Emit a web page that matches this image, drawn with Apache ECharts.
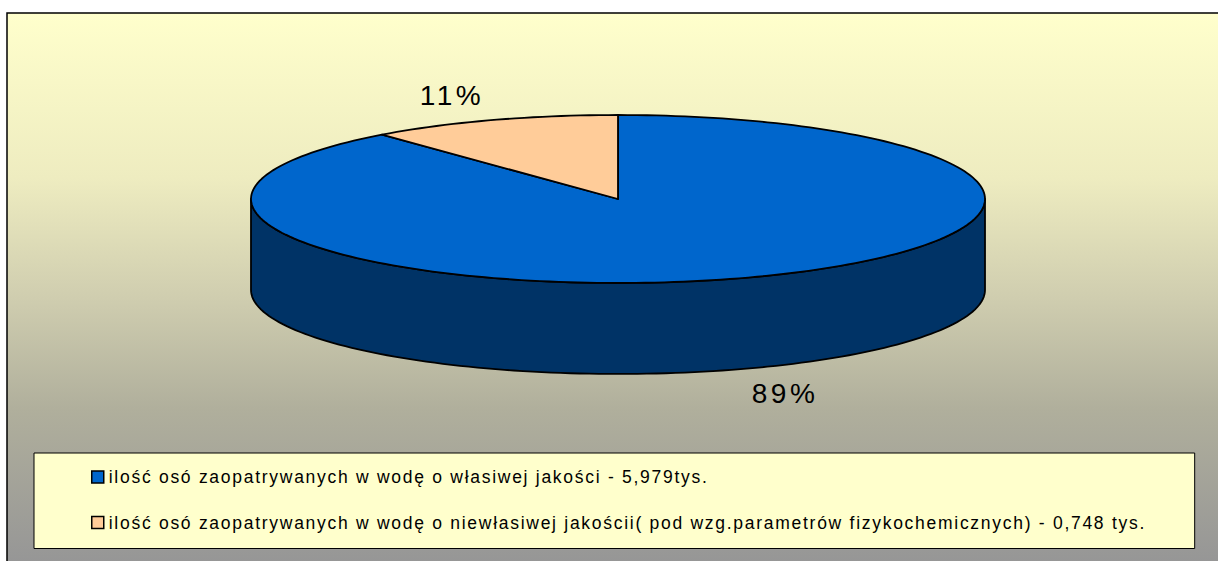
<!DOCTYPE html>
<html lang="pl">

<head>
  <meta charset="UTF-8">
  <title>Jakość wody</title>
  <script src="https://cdn.jsdelivr.net/npm/echarts@6/dist/echarts.min.js"></script>
  <style>
    html, body { margin: 0; padding: 0; background: #fff; }
    /* source chart has wide letter gaps */
    #main text { letter-spacing: 1.72px; }
    #main text[style*="28px"] { letter-spacing: 3.5px; }
  </style>
</head>

<body>

  <div id="main" style="width: 1218px;height:561px;"></div>

  <script>
    var names = [
      'ilość osó zaopatrywanych w wodę o własiwej jakości - 5,979tys.',
      'ilość osó zaopatrywanych w wodę o niewłasiwej jakościi( pod wzg.parametrów fizykochemicznych) - 0,748 tys.'
    ]
    var values = [5.979, 0.748]
    var colors = ['#0066CC', '#FFCC99']
    var sideColors = ['#003366', '#7F6650']

    var total = values[0] + values[1]
    var labels = values.map(function (v) { return Math.round(v / total * 100) + '%' })
    // 3d look: pie drawn as unit ellipse on a hidden grid, slices go clockwise from 12 o'clock
    var depth = 1.083
    var steps = 240

    function pt(api, a, r, dy) {
      return api.coord([Math.sin(a) * r, Math.cos(a) * r - dy])
    }

    function arcPoints(api, a0, a1, dy) {
      var n = Math.max(2, Math.round(steps * (a1 - a0) / (2 * Math.PI)))
      var list = []
      for (var i = 0; i <= n; i++) {
        list.push(pt(api, a0 + (a1 - a0) * i / n, 1, dy))
      }
      return list
    }

    function makeSlice(idx) {
      return function (params, api) {
        var before = 0
        for (var i = 0; i < idx; i++) before += values[i]
        var a0 = before / total * 2 * Math.PI
        var a1 = a0 + values[idx] / total * 2 * Math.PI
        var line = { stroke: '#000', lineWidth: 1.8, lineJoin: 'round' }
        var children = []

        // wall only where the rim faces the viewer
        var w0 = Math.max(a0, Math.PI / 2)
        var w1 = Math.min(a1, Math.PI * 3 / 2)
        if (w1 > w0) {
          var wall = arcPoints(api, w0, w1, 0).concat(arcPoints(api, w0, w1, depth).reverse())
          children.push({ type: 'polygon', shape: { points: wall }, style: Object.assign({ fill: sideColors[idx] }, line) })
        }
        var top = [api.coord([0, 0])].concat(arcPoints(api, a0, a1, 0))
        children.push({ type: 'polygon', shape: { points: top }, style: Object.assign({ fill: colors[idx] }, line) })

        return { type: 'group', children: children }
      }
    }

    var myChart = echarts.init(document.getElementById('main'), null, { renderer: 'svg' })

    myChart.setOption({
      animation: false,
      textStyle: { fontFamily: 'Liberation Sans' },
      graphic: [{
        type: 'rect',
        z: -10,
        shape: { x: 7, y: 13, width: 1213, height: 550 },
        style: {
          stroke: '#000',
          lineWidth: 1.5,
          fill: new echarts.graphic.LinearGradient(0, 0, 0, 1, [
            { offset: 0, color: '#FFFFCC' },
            { offset: 0.3, color: '#EEECC0' },
            { offset: 0.52, color: '#CFCDAF' },
            { offset: 0.72, color: '#B0AF9C' },
            { offset: 1, color: '#969696' }
          ])
        }
      }, {
        type: 'text', x: 785, y: 393, z: 10,
        style: { text: labels[0], font: '28px "Liberation Sans"', fill: '#000', align: 'center', verticalAlign: 'middle' }
      }, {
        type: 'text', x: 452, y: 95, z: 10,
        style: { text: labels[1], font: '28px "Liberation Sans"', fill: '#000', align: 'center', verticalAlign: 'middle' }
      }],
      grid: { left: 251, top: 115, width: 734, height: 168 },
      xAxis: { type: 'value', min: -1, max: 1, show: false },
      yAxis: { type: 'value', min: -1, max: 1, show: false },
      legend: {
        orient: 'vertical',
        left: 34,
        top: 453,
        padding: [15, 231, 17, 57],
        itemGap: 27.5,
        itemWidth: 12,
        itemHeight: 12,
        icon: 'rect',
        selectedMode: false,
        backgroundColor: '#FFFFCC',
        borderColor: '#000',
        borderWidth: 1,
        itemStyle: { borderColor: '#000', borderWidth: 1.5 },
        textStyle: { fontSize: 17.5, color: '#000', fontFamily: 'Liberation Sans' },
        data: names
      },
      series: [
        {
          type: 'custom',
          name: names[0],
          silent: true,
          clip: false,
          coordinateSystem: 'cartesian2d',
          itemStyle: { color: colors[0] },
          renderItem: makeSlice(0),
          data: [[0, 0, values[0]]]
        },
        {
          type: 'custom',
          name: names[1],
          silent: true,
          clip: false,
          coordinateSystem: 'cartesian2d',
          itemStyle: { color: colors[1] },
          renderItem: makeSlice(1),
          data: [[0, 0, values[1]]]
        }
      ]
    })
  </script>

</body>

</html>
